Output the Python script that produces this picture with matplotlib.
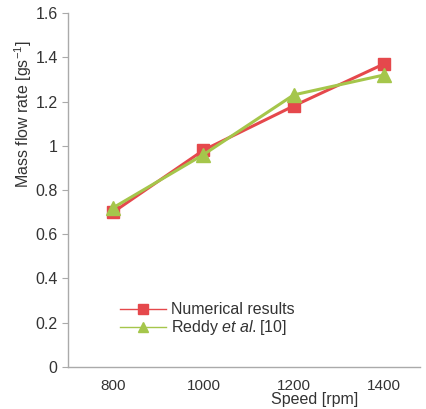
import matplotlib
matplotlib.use('Agg')
import matplotlib.pyplot as plt

speed = [800, 1000, 1200, 1400]
numerical = [0.70, 0.98, 1.18, 1.37]
reddy = [0.72, 0.96, 1.23, 1.32]
y_ticks = [0, 0.2, 0.4, 0.6, 0.8, 1, 1.2, 1.4, 1.6]
y_tick_labels = ['0', '0.2', '0.4', '0.6', '0.8', '1', '1.2', '1.4', '1.6']

plt.rcParams['font.family'] = ['Liberation Sans', 'DejaVu Sans']
plt.rcParams['mathtext.fontset'] = 'custom'
plt.rcParams['mathtext.rm'] = 'Liberation Sans'
plt.rcParams['mathtext.it'] = 'Liberation Sans:italic'

fig = plt.figure(figsize=(4.26, 4.09), dpi=100)
ax = fig.add_axes([0.16, 0.103, 0.826, 0.865])

red = '#e5484c'
green = '#a5c64b'
text_c = '#333333'
ax.plot(speed, numerical, color=red, lw=2.2, marker='s', ms=9, label='Numerical results', zorder=3)
ax.plot(speed, reddy, color=green, lw=2.2, marker='^', ms=10, label='Reddy $\\it{et\\ al.}$[10]', zorder=4)

ax.set_xlim(700, 1480)
ax.set_ylim(0, 1.6)
ax.set_xticks(speed)
ax.set_yticks(y_ticks)
ax.set_yticklabels(y_tick_labels)
ax.tick_params(axis='x', length=0, pad=9, labelsize=11, labelcolor=text_c)
ax.tick_params(axis='y', length=4, color='#aaaaaa', labelsize=11.5, labelcolor=text_c)

for s in ['top', 'right']:
    ax.spines[s].set_visible(False)
for s in ['left', 'bottom']:
    ax.spines[s].set_color('#aaaaaa')
    ax.spines[s].set_linewidth(1)

ax.set_xlabel('Speed [rpm]', fontsize=11.5, color=text_c, labelpad=0)
ax.xaxis.set_label_coords(0.7, -0.072)
ax.set_ylabel('Mass flow rate [gs$^{-1}$]', fontsize=11.5, color=text_c)
ax.yaxis.set_label_coords(-0.097, 0.715)

leg = ax.legend(loc='lower left', bbox_to_anchor=(0.115, 0.052), frameon=False,
                fontsize=11.5, handlelength=2.9, handletextpad=0.3, labelspacing=0.05,
                borderpad=0.2)
for t in leg.get_texts():
    t.set_color(text_c)
for h in leg.legend_handles:
    h.set_linewidth(1)
    h.set_markersize(7)

fig.savefig('out.png', dpi=100)
